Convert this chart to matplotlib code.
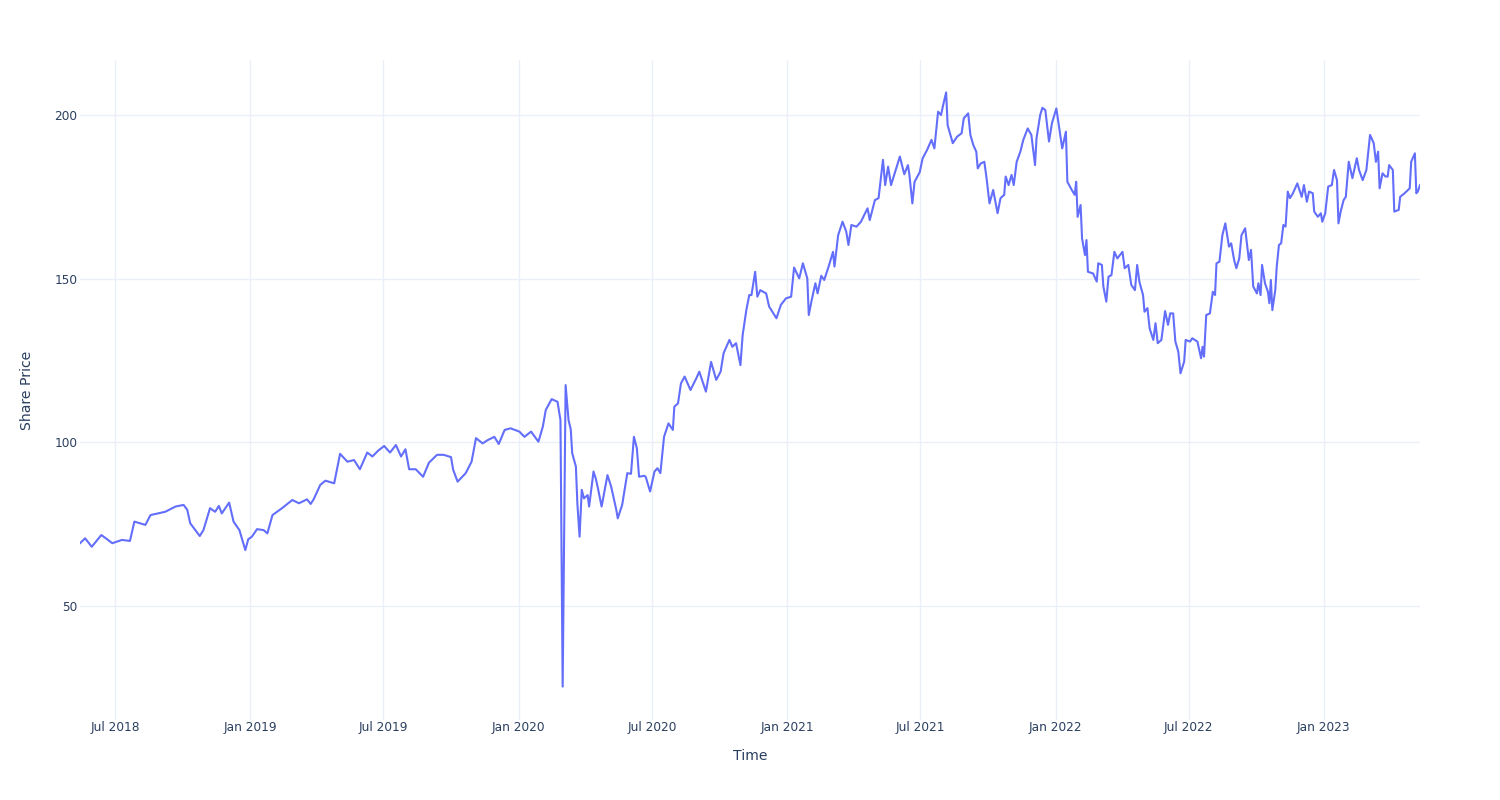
import matplotlib
matplotlib.use("Agg")
import matplotlib.pyplot as plt
import matplotlib.dates as mdates
import pandas as pd

# Closing prices; x is days counted from 1 Jul 2018.
start_date = "2018-07-01"
days = [
    -48, -41, -32, -19, -11, -4, 9, 20, 26, 41, 48, 68, 82, 93, 98, 102, 115, 120,
    129, 136, 141, 145, 155, 161, 169, 177, 181, 186, 193, 202, 207, 214, 227, 241,
    250, 261, 266, 270, 279, 286, 298, 306, 316, 325, 333, 343, 350, 358, 366, 374,
    382, 389, 395, 400, 409, 419, 427, 438, 447, 457, 460, 466, 477, 485, 491, 500,
    507, 516, 522, 530, 538, 550, 557, 566, 576, 582, 586, 594, 602, 606, 609, 613,
    617, 620, 622, 627, 629, 632, 635, 638, 643, 645, 651, 654, 657, 662, 670, 675,
    682, 684, 690, 697, 702, 706, 710, 713, 720, 722, 728, 734, 738, 742, 747, 753,
    759, 761, 766, 770, 775, 783, 791, 795, 804, 811, 818, 824, 828, 836, 840, 845,
    851, 854, 859, 863, 866, 871, 874, 878, 886, 890, 900, 906, 913, 920, 924, 931,
    936, 942, 944, 948, 953, 956, 961, 965, 971, 977, 979, 984, 990, 995, 998, 1002,
    1009, 1015, 1024, 1027, 1034, 1039, 1045, 1048, 1052, 1056, 1061, 1068, 1074,
    1079, 1081, 1085, 1088, 1095, 1099, 1105, 1111, 1115, 1120, 1124, 1127, 1131,
    1133, 1140, 1146, 1152, 1155, 1161, 1164, 1168, 1172, 1174, 1178, 1183, 1186,
    1190, 1195, 1201, 1205, 1210, 1212, 1216, 1220, 1223, 1227, 1232, 1236, 1242,
    1247, 1252, 1254, 1259, 1262, 1266, 1271, 1275, 1281, 1286, 1289, 1294, 1296,
    1302, 1306, 1308, 1310, 1314, 1316, 1320, 1322, 1324, 1331, 1336, 1338, 1343,
    1345, 1349, 1352, 1356, 1360, 1364, 1371, 1374, 1379, 1383, 1388, 1391, 1394,
    1399, 1401, 1405, 1408, 1413, 1416, 1419, 1424, 1429, 1433, 1436, 1440, 1443,
    1447, 1450, 1455, 1457, 1463, 1466, 1473, 1478, 1480, 1482, 1485, 1490, 1494,
    1497, 1499, 1503, 1507, 1511, 1516, 1519, 1523, 1526, 1530, 1533, 1538, 1543,
    1546, 1549, 1554, 1556, 1559, 1561, 1565, 1569, 1571, 1573, 1575, 1579, 1581,
    1584, 1587, 1590, 1593, 1596, 1599, 1603, 1609, 1612, 1615, 1618, 1622, 1625,
    1630, 1632, 1637, 1641, 1643, 1647, 1651, 1656, 1659, 1663, 1665, 1668, 1672,
    1675, 1679, 1684, 1690, 1693, 1698, 1703, 1708, 1713, 1716, 1719, 1721, 1725,
    1729, 1732, 1734, 1739, 1741, 1747, 1749, 1755, 1762, 1764, 1769, 1771, 1773,
    1776,
]
prices = [
    69.2, 70.7, 68.1, 71.7, 70.4, 69.2, 70.2, 69.9, 75.8, 74.8, 77.8, 78.8, 80.4, 80.9,
    79.4, 75.3, 71.4, 73.2, 79.9, 78.8, 80.6, 78.3, 81.6, 75.8, 73.2, 67.1, 70.4, 71.2,
    73.5, 73.2, 72.2, 77.8, 79.9, 82.4, 81.4, 82.6, 81.2, 82.6, 87.0, 88.3, 87.5, 96.5,
    94.1, 94.6, 91.8, 96.9, 95.7, 97.5, 98.9, 96.9, 99.2, 95.7, 97.9, 91.8, 91.8, 89.5,
    93.8, 96.2, 96.2, 95.5, 91.6, 88.0, 90.6, 94.1, 101.3, 99.7, 100.7, 101.7, 99.5,
    103.8, 104.3, 103.3, 101.7, 103.3, 100.2, 104.8, 109.9, 113.2, 112.4, 106.8, 25.4,
    117.5, 106.8, 104.0, 96.7, 92.6, 81.4, 71.2, 85.5, 82.9, 83.9, 80.4, 91.1, 89.0,
    86.0, 80.4, 90.0, 86.5, 79.4, 76.8, 80.9, 90.6, 90.4, 101.7, 98.2, 89.5, 89.8,
    89.5, 85.0, 91.1, 92.1, 90.6, 101.7, 105.8, 103.8, 110.9, 111.9, 118.0, 120.1,
    116.0, 119.6, 121.6, 115.5, 124.6, 119.1, 121.6, 127.2, 131.3, 129.2, 130.3, 123.6,
    132.8, 140.4, 145.0, 145.0, 152.1, 144.5, 146.5, 145.5, 141.5, 137.9, 142.0, 144.0,
    144.5, 153.4, 150.1, 154.7, 150.1, 138.9, 143.5, 148.6, 145.5, 150.9, 149.6, 153.7,
    158.2, 153.7, 163.3, 167.4, 164.4, 160.3, 166.4, 165.9, 167.4, 171.5, 167.9, 174.0,
    174.6, 186.3, 178.6, 184.2, 178.6, 182.2, 187.3, 181.9, 184.7, 181.7, 173.0, 179.6,
    182.5, 186.8, 189.3, 192.4, 189.8, 201.0, 200.0, 203.1, 206.9, 196.9, 191.4, 193.4,
    194.4, 199.0, 200.5, 193.9, 190.8, 188.8, 183.7, 185.2, 185.7, 180.7, 173.0, 177.1,
    170.0, 174.6, 175.6, 181.2, 178.6, 181.7, 178.6, 185.7, 188.8, 192.4, 195.9, 193.9,
    184.7, 192.9, 200.0, 202.2, 201.5, 191.9, 197.5, 202.0, 194.4, 189.8, 194.9, 179.6,
    177.1, 175.6, 179.6, 168.9, 172.5, 162.3, 157.2, 161.8, 152.1, 151.6, 149.1, 154.7,
    154.2, 147.6, 143.0, 150.6, 151.1, 158.2, 156.2, 158.2, 153.2, 154.2, 148.1, 146.5,
    154.2, 149.1, 145.0, 139.9, 141.0, 134.8, 131.3, 136.4, 130.3, 131.3, 140.1, 135.9,
    139.4, 139.4, 130.8, 127.7, 121.1, 124.7, 131.3, 130.8, 131.8, 130.8, 125.7, 129.2,
    126.2, 138.9, 139.4, 146.0, 145.0, 154.7, 155.2, 163.3, 166.9, 159.8, 160.8, 155.7,
    153.2, 156.2, 163.3, 165.4, 155.7, 158.8, 147.6, 145.5, 148.6, 145.0, 154.2, 148.6,
    146.0, 142.5, 149.6, 140.4, 146.5, 153.7, 160.3, 160.8, 166.4, 165.9, 176.6, 174.6,
    176.1, 179.1, 177.1, 175.0, 178.6, 173.5, 176.6, 176.1, 170.5, 168.9, 170.0, 167.4,
    170.0, 178.1, 178.6, 183.2, 180.1, 166.9, 170.5, 174.0, 175.0, 185.7, 180.7, 186.8,
    183.2, 180.1, 183.2, 193.9, 191.4, 185.7, 188.8, 177.6, 182.2, 181.2, 181.2, 184.7,
    183.2, 170.5, 171.0, 175.0, 176.1, 177.6, 185.7, 188.3, 176.1, 176.6, 178.6,
]

dates = pd.Timestamp(start_date) + pd.to_timedelta(days, unit="D")

TEXT = "#2a3f5f"
GRID = "#EBF0F8"

fig = plt.figure(figsize=(15, 8), dpi=100)
ax = fig.add_axes([80 / 1500, 80 / 800, 1340 / 1500, 660 / 800])

ax.plot(dates, prices, color="#636EFA", lw=1.5, zorder=3)

ax.set_xlim(dates[0], dates[-1])
ax.set_ylim(15.2, 216.8)
ax.set_yticks([50, 100, 150, 200])
ax.xaxis.set_major_locator(mdates.MonthLocator(bymonth=[1, 7]))
ax.xaxis.set_major_formatter(mdates.DateFormatter("%b %Y"))

ax.grid(True, color=GRID, lw=1)
ax.set_axisbelow(True)
for s in ax.spines.values():
    s.set_visible(False)
ax.tick_params(axis="both", length=0, labelsize=8.7, labelcolor=TEXT)
ax.tick_params(axis="x", pad=1)
ax.tick_params(axis="y", pad=2)

ax.set_xlabel("Time", fontsize=10.1, color=TEXT)
ax.set_ylabel("Share Price", fontsize=10.1, color=TEXT)
ax.xaxis.set_label_coords(0.5, -36 / 660)
ax.xaxis.label.set_va("center")
ax.yaxis.set_label_coords(-53 / 1340, 0.5)
ax.yaxis.label.set_va("center")

fig.savefig("out.png", dpi=100)
